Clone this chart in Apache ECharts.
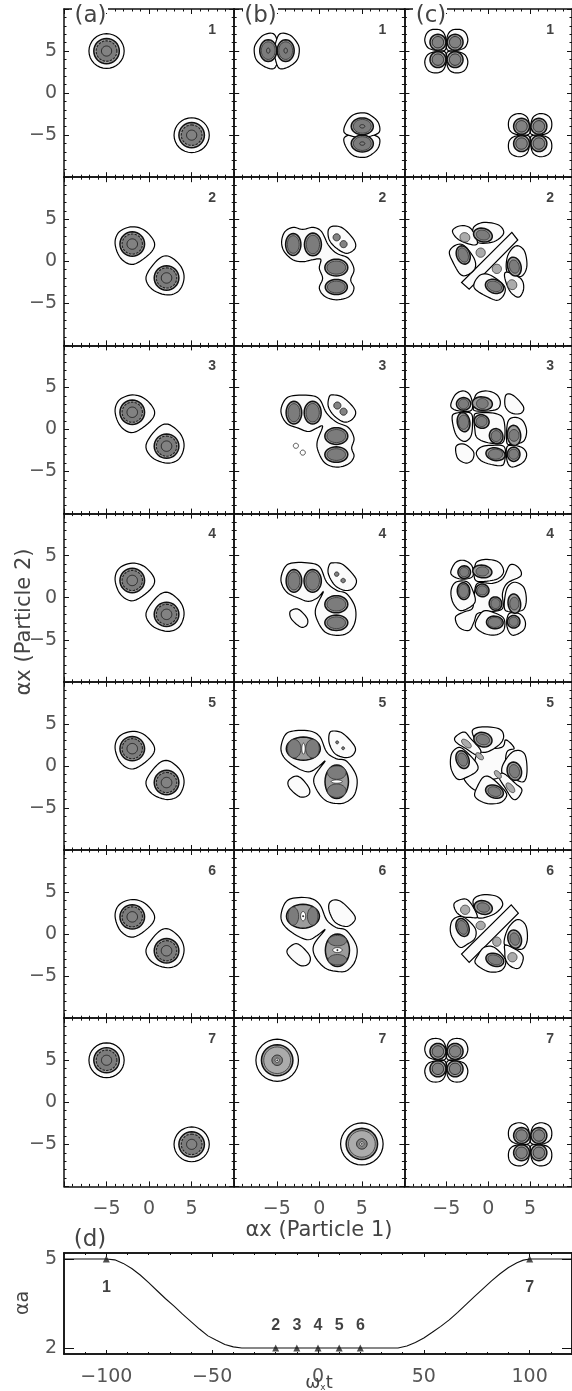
<!DOCTYPE html>
<html><head><meta charset="utf-8">
<style>html,body{margin:0;padding:0;background:#fff}#c{width:572px;height:1391px}</style>
<script src="https://cdn.jsdelivr.net/npm/echarts@6/dist/echarts.min.js"></script>
</head><body><div id="c"></div>
<script>
// ---------- tick labels and titles ----------
const phaseTicks = [-5, 0, 5];
const timeTicks = [-100, -50, 0, 50, 100];
const alphaTicks = [2, 5];
const panelLetters = ['(a)', '(b)', '(c)'];
const rowNames = ['1', '2', '3', '4', '5', '6', '7'];

// ---------- panel (d) ----------
const curveTime = [-120,-100,-96,-92,-88,-84,-80,-76,-72,-68,-64,-60,-56,-52,-48,-44,-40,-36,0,37.8,42,46,50,54,58,62,66,70,74,78,82,86,90,94,97,100,120];
const curveAlpha = [5,5,4.97,4.85,4.68,4.46,4.2,3.93,3.66,3.41,3.14,2.89,2.64,2.41,2.26,2.12,2.04,2,2,2,2.07,2.19,2.34,2.53,2.73,2.95,3.2,3.47,3.74,4,4.26,4.5,4.71,4.87,4.96,5,5];
const markerTime = [-100,-20,-10,0,10,20,100];
const markerAlpha = [5,2,2,2,2,2,5];

// ---------- contours: [style, cx, cy, rx, ry, rot] or [style, [x,y,...], curved] ----------
const aFarPair = [[0,-5,5,2.07,2.07,0],[1,-5,5,1.5,1.5,0],[2.5,-5,5,1.22,1.22,0],[4,-5,5,.6,.6,0]];
const aNearOutline = [-1.96,4.11,-.47,3.64,.63,2.21,.12,.95,-1.84,-.36,-3.33,.36,-4,2.13,-3.49,3.52];
const aNearPair = [[0,aNearOutline],[1,-1.98,2.05,1.45,1.45,0],[2.5,-1.98,2.05,1.2,1.2,0],[4,-1.98,2.05,.62,.62,0]];

const b1Outline = [-5.41,7.07,-6.59,6.88,-7.45,5.89,-7.65,5.02,-7.37,3.91,-6.39,3.12,-5.33,2.92,-4.86,3.91,-4.75,5.02,-4.9,6.09];
const b1Outline2 = [-4.59,7.07,-3.41,6.88,-2.55,5.89,-2.35,5.02,-2.63,3.91,-3.61,3.12,-4.67,2.92,-5.14,3.91,-5.25,5.02,-5.1,6.09];
const b1Pair = [[0,b1Outline],[0,b1Outline2],
 [1,-6,5.05,1,1.3,0],[1,-3.95,5.05,1,1.3,0],[2,-6,5.05,.82,1.05,0],[2,-3.95,5.05,.82,1.05,0],
 [4,-6,5.05,.2,.3,0],[4,-3.95,5.05,.2,.3,0]];

const b2Outer = [-3.06,4.03,-1.96,3.79,-.71,4.03,.27,3.52,1.06,1.94,2.04,.95,3.41,.36,4.08,-.95,3.69,-2.21,4.08,-3.2,3.53,-4.19,2.04,-4.58,.67,-4.19,0,-3.2,.39,-2.02,0,-.83,.16,.24,-.9,.16,-1.88,-.04,-3.06,.16,-4.12,1.15,-4.43,2.33,-4.04,3.52];
const b2Corner = [1.65,4.19,2.82,3.91,4.08,2.53,4.2,1.54,3.22,.95,2.04,1.54,1.18,2.53,1.06,3.72];
const b2Sym = [[0,b2Outer],[0,b2Corner]];
const b2Pair = [[1,-3.06,2,.9,1.3,0],[1,-.75,2,1,1.35,0],[2,-3.06,2,.7,1.05,0],[2,-.75,2,.78,1.1,0],[4,2.04,2.85,.42,.42,0]];

const b3Outer = [-4.04,3.52,-3.06,4.03,-.9,4.03,.08,3.52,.86,1.94,2.04,.87,3.41,.24,4.08,-1.03,3.8,-2.21,4.08,-3.2,3.41,-4.11,2.04,-4.47,.67,-3.99,-.12,-2.61,-.24,-1.42,.39,.36,-.31,.16,-1.29,-.24,-2.47,.16,-3.84,.75,-4.51,2.13];
const b3Corner = [1.65,4.11,2.82,3.79,4.2,2.33,4,1.34,3.02,.87,1.84,1.54,1.06,2.73,1.18,3.91];
const b3Sym = [[0,b3Outer],[0,b3Corner]];
const b3Pair = [[5,-2.75,-1.94,.3,.3,0],[1,-2.98,2,.92,1.35,0],[1,-.78,2,1,1.35,0],[2,-2.98,2,.7,1.08,0],[2,-.78,2,.78,1.1,0],[4,2.12,2.85,.42,.42,0]];

const b4Outer = [-4.04,3.64,-3.06,4.15,-1.1,4.11,.08,3.64,.86,1.86,2.04,.87,3.22,.47,4.2,-1.11,4.2,-2.89,3.41,-4.15,2.04,-4.47,.67,-4.07,-.24,-2.69,-.43,-1.3,.47,.67,-.24,-.04,-1.29,-.43,-2.47,-.04,-3.84,.67,-4.51,2.06];
const b4Corner = [1.65,4.15,2.82,3.91,4.31,2.25,4,1.15,3.02,.87,1.84,1.46,1.06,2.85,1.18,3.91];
const b4Low = [-2.86,-1.34,-2.27,-1.5,-1.41,-2.49,-1.49,-3.28,-2.2,-3.48,-3.25,-2.57,-3.45,-1.7];
const b4Sym = [[0,b4Outer],[0,b4Corner],[0,b4Low]];
const b4Pair = [[1,-2.98,2,.92,1.35,0],[1,-.78,2,1.02,1.35,0],[2,-2.98,2,.7,1.08,0],[2,-.78,2,.8,1.1,0],[4,2.04,2.8,.26,.26,0]];

const b5Outer = [-4.04,3.64,-3.06,4.15,-1.1,4.15,.08,3.44,.86,1.66,1.96,.87,3.22,.55,4.39,-1.3,4.2,-3.28,3.22,-4.27,2.04,-4.47,.67,-4.07,-.39,-2.69,-.59,-1.3,.67,.55,-.24,-.2,-1.29,-.71,-2.67,-.2,-4.04,.87,-4.51,2.06];
const b5Corner = [1.65,4.15,2.82,3.83,4.2,2.25,3.92,1.26,3.02,.99,1.84,1.46,1.18,2.65,1.18,3.83];
const b5Low = [-2.86,-1.23,-2.08,-1.5,-1.18,-2.69,-1.29,-3.48,-2.27,-3.68,-3.45,-2.69,-3.65,-1.82];
const b5Sym = [[0,b5Outer],[0,b5Corner],[0,b5Low]];
const b5Pair = [[1,-1.88,2.05,2,1.38,0],[2,-2.95,2.05,.8,1.1,0],[2,-.8,2.05,.8,1.1,0],[5,-1.86,2.05,.2,.65,0],[4,2.1,2.8,.17,.17,0]];

const b6Outer = [-4.04,3.68,-3.06,4.27,-1.1,4.27,.08,3.48,.86,1.7,1.96,.79,3.22,.4,4.39,-1.46,4.2,-3.24,3.22,-4.35,2.04,-4.43,.67,-4.03,-.51,-2.65,-.63,-1.26,.67,.51,-.24,-.16,-1.29,-.67,-2.67,-.16,-4.04,.91,-4.51,2.09];
const b6Corner = [1.84,4.07,2.82,3.68,4.2,2.09,3.8,1.19,3.02,.91,1.84,1.42,1.18,2.69,1.18,3.68];
const b6Low = [-2.86,-1.15,-2.08,-1.46,-1.1,-2.65,-1.29,-3.56,-2.27,-3.72,-3.53,-2.65,-3.76,-1.86];
const b6Sym = [[0,b6Outer],[0,b6Corner],[0,b6Low]];
const b6Pair = [[1,-1.92,2.13,1.94,1.42,0],[2,-3.05,2.13,.62,1.08,0],[2,-.78,2.13,.62,1.08,0],[5,-1.9,2.13,.3,.55,0],[6,-1.9,2.13,.09,.09,0]];

const b7Pair = [[0,-4.95,5,2.5,2.5,0],[1,-4.95,5,1.85,1.85,0],[3,-4.95,5,1.58,1.58,0],[4,-4.95,5,.62,.62,0],[5,-4.95,5,.24,.24,0],[6,-4.95,5,.08,.08,0]];

const cloverTL = [-6.59,7.57,-5.61,7.45,-5.1,6.66,-5.1,5.16,-6.2,5.08,-7.18,5.4,-7.57,6.26,-7.29,7.17];
const cloverTR = [-3.41,7.57,-4.39,7.45,-4.9,6.66,-4.9,5.16,-3.8,5.08,-2.82,5.4,-2.43,6.26,-2.71,7.17];
const cloverBL = [-6.59,2.43,-5.61,2.55,-5.1,3.34,-5.1,4.84,-6.2,4.92,-7.18,4.6,-7.57,3.74,-7.29,2.83];
const cloverBR = [-3.41,2.43,-4.39,2.55,-4.9,3.34,-4.9,4.84,-3.8,4.92,-2.82,4.6,-2.43,3.74,-2.71,2.83];
const cloverPair = [[0,cloverTL],[0,cloverTR],[0,cloverBL],[0,cloverBR],
 [1,-6,6.05,.95,.95,0],[1,-3.95,6.05,.95,.95,0],[1,-6,3.98,.95,.95,0],[1,-3.95,3.98,.95,.95,0],
 [4,-6,6.05,.68,.68,0],[4,-3.95,6.05,.68,.68,0],[4,-6,3.98,.68,.68,0],[4,-3.95,3.98,.68,.68,0]];

const c2Bar = [2.82,3.44,3.53,2.53,-2.27,-3.32,-3.18,-2.53];
const c2Top = [-1.69,4.11,-.51,4.62,1.25,4.31,1.84,3.32,.67,2.33,-1.18,2.21,-1.8,3.12];
const c2Left = [-3.84,1.94,-2.86,1.86,-1.69,.36,-1.57,-.83,-2.47,-1.62,-3.33,-1.54,-4.24,-.04,-4.63,1.15];
const c2Small = [-4.24,3.72,-3.25,4.23,-2.08,3.91,-1.29,2.33,-1.69,1.94,-3.06,2.33,-3.92,2.92];
const c2Sym = [[0,c2Bar,false]];
const c2Pair = [[0,c2Top],[0,c2Left],[0,c2Small],[1,-.63,3.12,1.14,.8,-15],[2,-.63,3.12,.8,.58,-15],[1,-2.98,.75,.8,1.12,20],[2,-2.98,.75,.58,.88,20],[3,-2.78,2.85,.6,.55,-30],[3,-.9,1.03,.55,.55,0]];

const c3TL = [-4.43,3.12,-3.84,4.23,-2.86,4.58,-2.08,3.91,-1.96,2.33,-3.45,2.21,-4.31,2.53];
const c3Top = [-1.69,3.52,-1.29,4.31,-.12,4.58,1.06,4.11,1.45,3.12,.86,2.33,-1.49,2.21,-1.77,2.73];
const c3Corner = [2.12,4.11,3.02,4.03,4.2,2.73,3.92,1.94,2.82,1.94,2.04,2.73];
const c3Left = [-4.31,1.34,-3.84,1.94,-2.08,1.94,-1.88,.55,-2.08,-.83,-2.86,-1.42,-3.84,-.63];
const c3Mid = [-1.69,1.54,-1.29,1.94,.67,1.94,1.84,1.19,1.84,-1.42,.27,-1.62,-1.29,-1.03,-1.61,.16];
const c3Low = [-3.84,-2.02,-2.86,-1.74,-1.77,-2.61,-1.88,-3.6,-2.67,-3.99,-3.65,-3.4];
const c3Sym = [[0,c3Corner],[0,c3Mid],[0,c3Low]];
const c3Pair = [[0,c3TL],[0,c3Top],[0,c3Left],[1,-2.94,3.04,.85,.75,0],[2,-2.94,3.04,.6,.58,0],[1,-.7,3.08,1.2,.8,-5],[2,-.7,3.08,.7,.6,0],[1,-2.94,.87,.75,1.15,10],[2,-2.94,.87,.6,.85,0],[1,-.78,.95,.9,.8,-20],[2,-.78,.95,.65,.6,0]];

const c4TL = [-4.43,3.24,-3.84,4.23,-2.86,4.43,-1.96,3.83,-1.8,2.65,-2.47,2.25,-3.45,2.25,-4.31,2.65];
const c4Top = [-1.61,3.64,-1.29,4.31,-.12,4.55,1.25,4.23,1.84,3.24,1.45,2.45,.47,2.06,-1.29,1.94,-1.69,2.65];
const c4Left = [-4.43,.87,-3.84,1.86,-2.47,1.86,-1.77,.67,-1.57,-.51,-2.47,-1.3,-3.45,-1.5,-4.24,-.51];
const c4Bone = [2.6,3.9,3.6,3.6,3.9,2.6,2.3,1.75,1.7,.5,1.7,-1.3,-.1,-1.7,-1.3,-1.9,-1.7,-2.9,-2.3,-3.9,-3.5,-3.5,-3.9,-2.3,-2.9,-1.7,-1.9,-1.3,-1.7,-.1,-1.3,1.7,.5,1.7,1.75,2.3];
const c4Sym = [[0,c4Bone]];
const c4Pair = [[0,c4TL],[0,c4Top],[0,c4Left],[1,-2.86,3.04,.75,.75,0],[2,-2.86,3.04,.55,.55,0],[1,-.7,3.12,1.15,.75,-8],[2,-.7,3.12,.75,.55,0],[1,-2.94,.79,.75,1,5],[2,-2.94,.79,.6,.8,0],[1,-.7,.87,.8,.75,-15],[2,-.7,.87,.6,.55,0]];

const c5Core = [2.1,3.1,3.1,2.1,2.2,1.6,1.7,-1.1,-.6,-1.9,-1.5,-2.9,-2.9,-1.5,-1.9,-.6,-1.1,1.7,1.6,2.2];
const c5Top = [-1.88,4.23,-.71,4.63,1.25,4.43,1.84,3.64,1.45,2.65,-.12,1.66,-1.29,1.86,-1.57,3.04];
const c5Left = [-4.43,1.26,-3.84,2.06,-3.06,2.06,-1.49,.47,-1.29,-.51,-2.47,-1.3,-3.65,-1.58,-4.43,-.32];
const c5Small = [-3.92,3.44,-2.86,4.03,-2.08,3.24,-.9,1.86,-1.29,1.26,-2.67,2.06,-3.84,2.83];
const c5Sym = [[0,c5Core]];
const c5Pair = [[0,c5Top],[0,c5Left],[0,c5Small],[1,-.63,3.12,1.1,.85,-15],[2,-.63,3.12,.8,.6,-15],[1,-3.06,.75,.75,1.1,20],[2,-3.06,.75,.55,.8,20],[3,-2.6,2.65,.7,.35,-40],[3,-1.02,1.15,.55,.3,-40]];

const c6Bar = [2.75,3.48,3.6,2.49,-2.27,-3.36,-3.18,-2.37];
const c6Top = [-1.77,4.07,-.71,4.66,1.06,4.47,1.73,3.48,.67,2.37,-1.1,1.9,-1.57,2.69];
const c6Left = [-4.43,1.3,-3.84,1.98,-2.86,1.98,-1.57,.71,-1.57,-.47,-2.47,-1.19,-3.45,-1.54,-4.43,-.08];
const c6Small = [-4.04,3.68,-2.86,4.19,-2.08,3.68,-1.29,2.09,-2.08,1.98,-3.06,2.09,-3.84,2.69];
const c6Sym = [[0,c6Bar,false]];
const c6Pair = [[0,c6Top],[0,c6Left],[0,c6Small],[1,-.59,3.16,1.1,.8,-15],[2,-.59,3.16,.75,.55,-15],[1,-3.06,.79,.75,1.1,20],[2,-3.06,.79,.55,.85,20],[3,-2.75,2.89,.55,.55,-30],[3,-.9,1.03,.55,.5,0]];

// rows top to bottom, columns (a), (b), (c)
const panels = [
 [{pair:aFarPair},{pair:b1Pair},{pair:cloverPair}],
 [{pair:aNearPair},{sym:b2Sym,pair:b2Pair},{sym:c2Sym,pair:c2Pair}],
 [{pair:aNearPair},{sym:b3Sym,pair:b3Pair},{sym:c3Sym,pair:c3Pair}],
 [{pair:aNearPair},{sym:b4Sym,pair:b4Pair},{sym:c4Sym,pair:c4Pair}],
 [{pair:aNearPair},{sym:b5Sym,pair:b5Pair},{sym:c5Sym,pair:c5Pair}],
 [{pair:aNearPair},{sym:b6Sym,pair:b6Pair},{sym:c6Sym,pair:c6Pair}],
 [{pair:aFarPair},{pair:b7Pair},{pair:cloverPair}]
];

// ---------- presentation ----------
const LEFT = 64, TOP = 9, CW = 170.2, RH = 168.2;
const INK = '#111', TXT = '#555', SANS = '"DejaVu Sans"';
const STYLES = {
 0:{fill:'#fbfbfb',stroke:'#000',lineWidth:1.2},
 1:{fill:'#9c9c9c',stroke:'#111',lineWidth:1.5},
 2:{fill:'#7c7c7c',stroke:'#333',lineWidth:.8},
 2.5:{fill:'#7c7c7c',stroke:'#222',lineWidth:1.1,lineDash:[2.5,1.2]},
 3:{fill:'#ababab',stroke:'#444',lineWidth:.9},
 4:{fill:'#828282',stroke:'#222',lineWidth:.9},
 5:{fill:'#fff',stroke:'#222',lineWidth:.8},
 6:{fill:'#111',stroke:'#111',lineWidth:.4}
};

function curvePts(p){
  // closed Catmull-Rom through the contour points
  const n=p.length/2, out=[], at=(i)=>[p[((i+n)%n)*2],p[((i+n)%n)*2+1]];
  for(let i=0;i<n;i++){
    const a=at(i-1),b=at(i),c=at(i+1),d=at(i+2);
    for(let k=0;k<6;k++){
      const t=k/6,t2=t*t,t3=t2*t;
      for(let j=0;j<2;j++) out.push(.5*(2*b[j]+(c[j]-a[j])*t+(2*a[j]-5*b[j]+4*c[j]-d[j])*t2+(3*b[j]-a[j]-3*c[j]+d[j])*t3));
    }
  }
  return out;
}
function toItem(s){
  if (Array.isArray(s[1])) return {style:s[0],pts:s[2]===false?s[1]:curvePts(s[1])};
  const [st,cx,cy,rx,ry,rot] = s, a = rot*Math.PI/180, pts = [];
  for (let i=0;i<32;i++){
    const t=i/32*2*Math.PI, u=rx*Math.cos(t), v=ry*Math.sin(t);
    pts.push(cx+u*Math.cos(a)-v*Math.sin(a), cy+u*Math.sin(a)+v*Math.cos(a));
  }
  return {style:st,pts};
}
function swapItem(it){
  const p=[]; for(let i=0;i<it.pts.length;i+=2) p.push(it.pts[i+1],it.pts[i]);
  return {style:it.style,pts:p};
}
function panelItems(p){
  const pair=(p.pair||[]).map(toItem);
  const all=(p.sym||[]).map(toItem).concat(pair,pair.map(swapItem));
  return all.map((it,i)=>[it,i]).sort((a,b)=>a[0].style-b[0].style||a[1]-b[1]).map(a=>a[0]);
}

const grid=[],xAxis=[],yAxis=[],series=[];
const minus=v=>String(v).replace('-','\u2212');
function phaseAxis(pos,showLabel,idx,isX){
  return {gridIndex:idx,type:'value',position:pos,min:-10,max:10,interval:5,
    axisLine:{show:true,onZero:false,lineStyle:{color:INK,width:1.5}},
    axisTick:{show:true,inside:true,length:5,lineStyle:{color:INK,width:1}},
    minorTick:{show:true,splitNumber:5,length:2.5,lineStyle:{color:INK,width:1}},
    splitLine:{show:false},minorSplitLine:{show:false},
    axisLabel:{show:showLabel,customValues:phaseTicks,formatter:minus,color:TXT,fontSize:19,fontFamily:SANS,margin:isX?13:7}};
}
panels.forEach((row,r)=>row.forEach((p,c)=>{
  const g=grid.length;
  grid.push({left:LEFT+c*CW,top:TOP+r*RH,width:CW,height:RH});
  xAxis.push(phaseAxis('bottom',r===6,g,true),phaseAxis('top',false,g,true));
  yAxis.push(phaseAxis('left',c===0,g,false),phaseAxis('right',false,g,false));
  const items=panelItems(p), xi=xAxis.length-2, yi=yAxis.length-2;
  series.push({type:'custom',coordinateSystem:'cartesian2d',xAxisIndex:xi,yAxisIndex:yi,silent:true,clip:true,
    encode:{x:0,y:1},data:items.map((_,i)=>[0,0,i]),
    renderItem(params,api){
      const it=items[api.value(2)], pts=[];
      for(let i=0;i<it.pts.length;i+=2) pts.push(api.coord([it.pts[i],it.pts[i+1]]));
      return {type:'polygon',shape:{points:pts},style:Object.assign({},STYLES[it.style])};
    }});
  series.push({type:'scatter',xAxisIndex:xi,yAxisIndex:yi,silent:true,symbolSize:0,data:[[7.4,7.5]],
    label:{show:true,position:'inside',formatter:rowNames[r],fontFamily:'"Liberation Sans"',fontWeight:'bold',fontSize:14,color:'#111'}});
}));

// panel (d): one grid for long ticks and labels, one with the fine ticks
const dG=grid.length;
const dBox={left:LEFT,top:1253,width:511,height:101};
grid.push(dBox,dBox);
const dx=(pos,g,major)=>({gridIndex:g,type:'value',position:pos,min:-120,max:120,interval:10,
  axisLine:{show:true,onZero:false,lineStyle:{color:INK,width:1.5}},
  axisTick:{show:true,inside:true,length:major?4:2,customValues:major?timeTicks:undefined,lineStyle:{color:INK}},
  splitLine:{show:false},
  axisLabel:{show:major&&pos==='bottom',customValues:timeTicks,formatter:minus,color:TXT,fontSize:19,fontFamily:SANS,margin:14}});
const dy=(pos,g,major)=>({gridIndex:g,type:'value',position:pos,min:1.8,max:5.2,
  axisLine:{show:true,onZero:false,lineStyle:{color:INK,width:1.5}},
  axisTick:{show:major,inside:true,length:10,customValues:alphaTicks,lineStyle:{color:INK}},
  splitLine:{show:false},
  axisLabel:{show:major&&pos==='left',customValues:alphaTicks,color:TXT,fontSize:19,fontFamily:SANS,margin:7}});
const dXi=xAxis.length, dYi=yAxis.length;
xAxis.push(dx('bottom',dG,true),dx('top',dG,true),dx('bottom',dG+1,false),dx('top',dG+1,false));
yAxis.push(dy('left',dG,true),dy('right',dG,true),dy('left',dG+1,false),dy('right',dG+1,false));
series.push({type:'line',xAxisIndex:dXi,yAxisIndex:dYi,smooth:false,showSymbol:false,silent:true,
  lineStyle:{color:'#111',width:1.1},data:curveTime.map((t,i)=>[t,curveAlpha[i]])});
series.push({type:'scatter',xAxisIndex:dXi,yAxisIndex:dYi,silent:true,symbol:'triangle',symbolSize:7,
  itemStyle:{color:'#222'},
  data:markerTime.map((t,i)=>({value:[t,markerAlpha[i]],label:{position:markerAlpha[i]===5?'bottom':'top',distance:markerAlpha[i]===5?17:11}})),
  label:{show:true,formatter:p=>rowNames[p.dataIndex],fontFamily:'"Liberation Sans"',fontWeight:'bold',fontSize:16,color:'#111'}});

const textEl=(text,x,y,size,rot)=>({type:'text',z:101,x,y,rotation:rot||0,
  style:{text,fontFamily:SANS,fontSize:size,fill:'#444',align:'center',verticalAlign:'middle'}});
const graphicEls=[
  {type:'rect',z:100,shape:{x:72,y:4,width:36,height:9},style:{fill:'#fff'}},
  {type:'rect',z:100,shape:{x:243,y:4,width:35,height:9},style:{fill:'#fff'}},
  {type:'rect',z:100,shape:{x:413,y:4,width:34,height:9},style:{fill:'#fff'}},
  textEl(panelLetters[0],90.5,16,23),textEl(panelLetters[1],260.5,16,23),textEl(panelLetters[2],431,16,23),
  textEl('(d)',90,1240,23),
  textEl('\u03b1x (Particle 1)',319,1231,21),
  textEl('\u03b1x (Particle 2)',25,622,21,Math.PI/2),
  textEl('\u03b1a',23,1303,19,Math.PI/2),
  {type:'text',z:101,x:319,y:1383,style:{text:'{a|\u03c9}{b|x}{a|t}',align:'center',verticalAlign:'middle',
    rich:{a:{fontFamily:SANS,fontSize:18,fill:'#444',color:'#444'},b:{fontFamily:SANS,fontSize:9,fill:'#444',color:'#444',verticalAlign:'bottom',padding:[8,0,0,0]}}}}
];

const chart=echarts.init(document.getElementById('c'),null,{renderer:'canvas',width:572,height:1391});
chart.setOption({animation:false,backgroundColor:'#fff',grid,xAxis,yAxis,series,graphic:{elements:graphicEls}});
</script></body></html>
